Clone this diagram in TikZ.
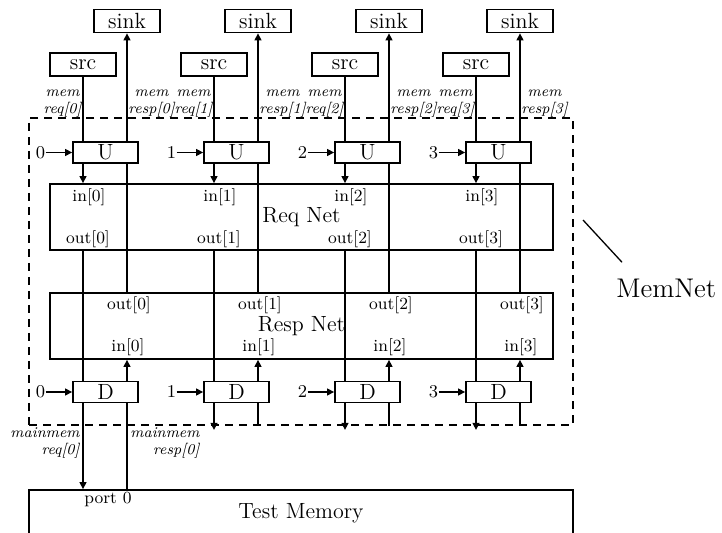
\documentclass[tikz,border=0pt]{standalone}
\usetikzlibrary{arrows.meta,positioning}
\tikzset{
  box/.style={draw, line width=0.9pt, inner sep=0pt, font=\fontsize{11}{12}\selectfont},
  endbox/.style={box, minimum width=33pt, minimum height=11.5pt},
  unitbox/.style={box, minimum width=32.5pt, minimum height=10.5pt},
  netbox/.style={box, minimum width=251.5pt, minimum height=33pt},
  wire/.style={line width=0.65pt},
  sig/.style={wire, -{Triangle[length=3.5pt,width=3.5pt]}},
  portlbl/.style={inner sep=0pt, font=\fontsize{8.5}{9}\selectfont},
  siglbl/.style={inner sep=0pt, font=\fontsize{7.5}{8.5}\selectfont\itshape},
  numlbl/.style={inner sep=0pt, font=\fontsize{9}{10}\selectfont},
}
\begin{document}
\begin{tikzpicture}[x=0.5pt, y=-0.5pt]
    \useasboundingbox (0,0) rectangle (722,533);

    % MemNet boundary
    \node[draw, dashed, dash pattern=on 4pt off 3pt, line width=0.9pt, inner sep=0pt,
          minimum width=272pt, minimum height=153.5pt] (memnet) at (301,271.5) {};
    \node[inner sep=0pt, font=\fontsize{13.5}{15}\selectfont, anchor=west] (memlabel) at (616,288) {MemNet};
    \coordinate (tag) at (583,220);
    \draw[wire] (tag) -- ([shift={(6,-16)}]memlabel.north west);

    % Networks and memory
    \node[netbox] (req) at (301.5,217) {Req Net};
    \node[netbox] (resp) at (301.5,326) {Resp Net};
    \node[box, minimum width=272pt, minimum height=23pt] (mem) at (301,513) {Test Memory};

    % One column per port
    \foreach \i in {0,...,3} {
      \node[endbox] (sink\i) at (127+131*\i,21) {sink};
      \node[endbox] (src\i) at (83+131*\i,64.5) {src};
      \node[unitbox] (u\i) at (105.5+131*\i,152.5) {U};
      \node[unitbox] (d\i) at (105.5+131*\i,392) {D};
      \node[numlbl] (nu\i) at (40.5+131*\i,152.5) {\i};
      \node[numlbl] (nd\i) at (40.5+131*\i,392) {\i};
      \draw[sig] (nu\i) -- (u\i);
      \draw[sig] (nd\i) -- (d\i);

      % request path
      \draw[wire] (src\i) -- (src\i |- u\i.north);
      \draw[sig] (src\i |- u\i.south) -- (src\i |- req.north);
      \draw[wire] (src\i |- req.south) -- (src\i |- d\i.north);
      % response path
      \draw[sig] (sink\i |- u\i.north) -- (sink\i);
      \draw[wire] (sink\i |- resp.north) -- (sink\i |- u\i.south);
      \draw[sig] (sink\i |- d\i.north) -- (sink\i |- resp.south);

      % labels
      \node[siglbl, align=center, anchor=east] (lreq\i) at ([xshift=-0.5pt]src\i |- 0,104) {mem\\req[\i]};
      \node[siglbl, align=center, anchor=west] (lresp\i) at ([xshift=0.5pt]sink\i |- 0,104) {mem\\resp[\i]};
      \node[portlbl, anchor=north] (rin\i) at ([shift={(3pt,-2.5pt)}]src\i |- req.north) {in[\i]};
      \node[portlbl, anchor=south] (rout\i) at ([shift={(2.5pt,1.5pt)}]src\i |- req.south) {out[\i]};
      \node[portlbl, anchor=north] (pout\i) at ([shift={(1pt,-2pt)}]sink\i |- resp.north) {out[\i]};
      \node[portlbl, anchor=south] (pin\i) at ([shift={(0.5pt,2pt)}]sink\i |- resp.south) {in[\i]};
    }

    % Port 0 goes to the test memory
    \draw[sig] (src0 |- d0.south) -- (src0 |- mem.north);
    \draw[wire] (sink0 |- mem.north) -- (sink0 |- d0.south);
    \node[siglbl, align=right, anchor=east] (lmreq) at ([xshift=-1.5pt]src0 |- 0,443) {mainmem\\req[0]};
    \node[siglbl, align=right, anchor=west] (lmresp) at ([xshift=1.5pt]sink0 |- 0,443) {mainmem\\resp[0]};
    \node[portlbl, anchor=north west] (port0) at ([shift={(0.5pt,-1.5pt)}]src0 |- mem.north) {port 0};

    % Other ports leave the boundary
    \foreach \i in {1,2,3} {
      \coordinate (q\i) at (src\i |- memnet.south);
      \draw[sig] (src\i |- d\i.south) -- ([yshift=-2pt]q\i);
      \draw[wire] (sink\i |- memnet.south) -- (sink\i |- d\i.south);
    }
\end{tikzpicture}
\end{document}
